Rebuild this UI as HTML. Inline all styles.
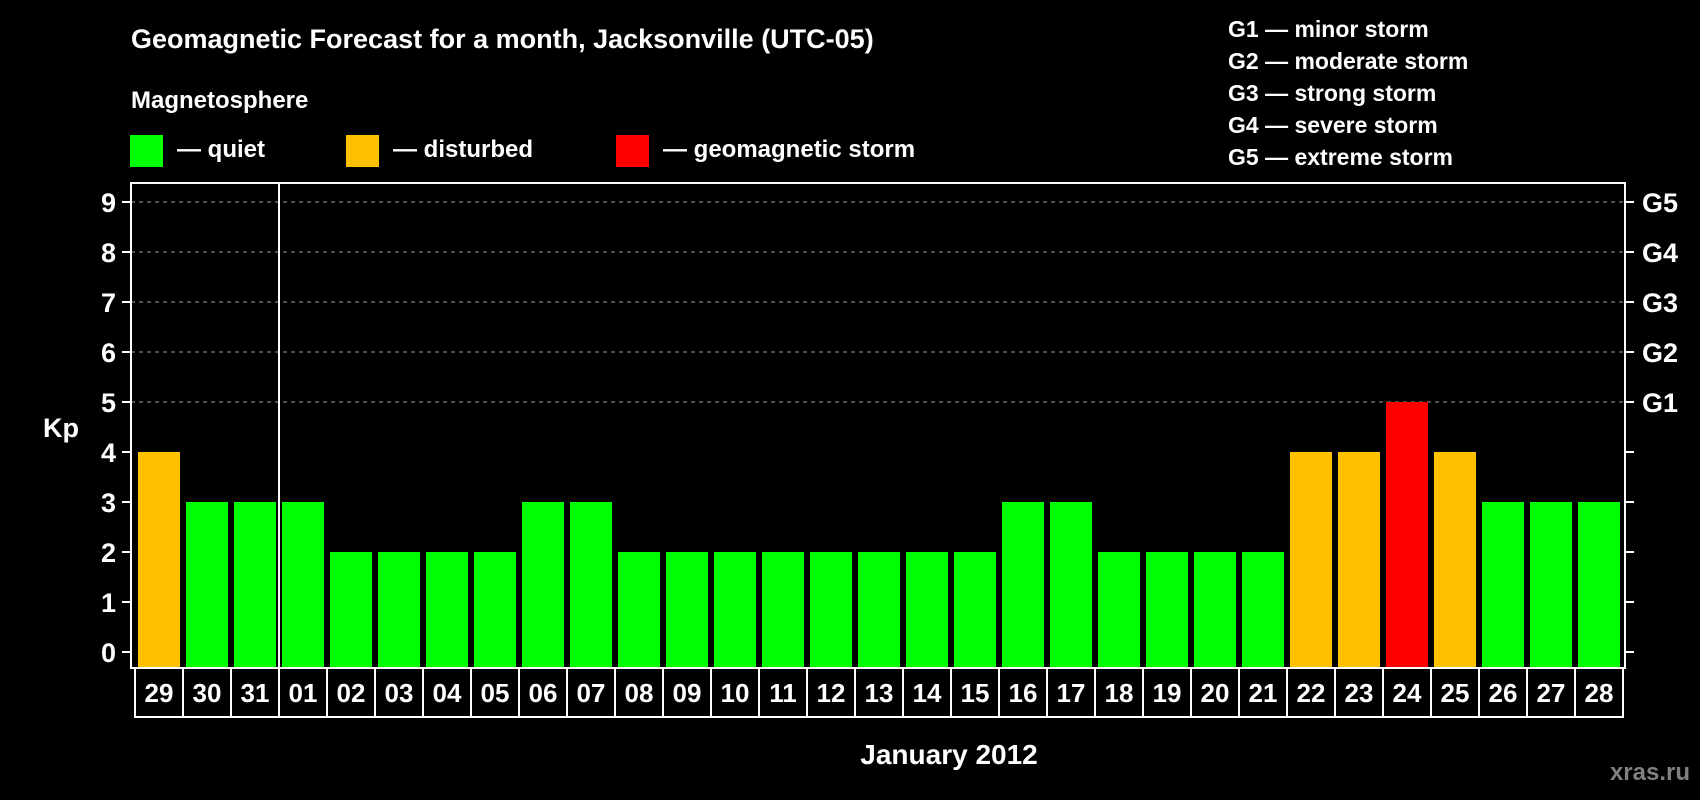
<!DOCTYPE html>
<html><head><meta charset="utf-8"><style>
html,body{margin:0;padding:0;background:#000;width:1700px;height:800px;overflow:hidden}
svg{display:block;font-family:"Liberation Sans",Arial,sans-serif;font-weight:bold}
</style></head><body>
<svg id="chart" width="1700" height="800" viewBox="0 0 1700 800">
<rect width="1700" height="800" fill="#000"/>
<text x="131" y="48" fill="#fff" font-size="27">Geomagnetic Forecast for a month, Jacksonville (UTC-05)</text>
<text x="131" y="108" fill="#fff" font-size="24">Magnetosphere</text>
<g><rect x="130" y="135" width="33" height="32" fill="#00ff00"/><text x="177" y="157" fill="#fff" font-size="24">— quiet</text></g>
<g><rect x="346" y="135" width="33" height="32" fill="#ffc000"/><text x="393" y="157" fill="#fff" font-size="24">— disturbed</text></g>
<g><rect x="616" y="135" width="33" height="32" fill="#ff0000"/><text x="663" y="157" fill="#fff" font-size="24">— geomagnetic storm</text></g>
<g fill="#fff" font-size="23">
<text x="1228" y="37">G1 — minor storm</text>
<text x="1228" y="69">G2 — moderate storm</text>
<text x="1228" y="101">G3 — strong storm</text>
<text x="1228" y="133">G4 — severe storm</text>
<text x="1228" y="165">G5 — extreme storm</text>
</g>
<g id="plot"></g>
<text x="43" y="437" fill="#fff" font-size="27">Kp</text>
<text x="949" y="764" fill="#fff" font-size="28" text-anchor="middle">January 2012</text>
<text x="1690" y="780" fill="#808080" font-size="24" text-anchor="end">xras.ru</text>
</svg>
<script>
const days = ["29","30","31","01","02","03","04","05","06","07","08","09","10","11","12","13","14","15","16","17","18","19","20","21","22","23","24","25","26","27","28"];
const kp = [4,3,3,3,2,2,2,2,3,3,2,2,2,2,2,2,2,2,3,3,2,2,2,2,4,4,5,4,3,3,3];
const yTicks = [0,1,2,3,4,5,6,7,8,9];
const gLabels = ["G1","G2","G3","G4","G5"];
const gLevels = [5,6,7,8,9];

const NS="http://www.w3.org/2000/svg";
const g=document.getElementById('plot');
const L=131,R=1625,T=183,B=668;
const y=v=>652-v*50;
const step=(R-L-6)/days.length;
const x=i=>138+i*step;
const bw=42;
function mk(tag,attrs,parent){const e=document.createElementNS(NS,tag);for(const k in attrs)e.setAttribute(k,attrs[k]);(parent||g).appendChild(e);return e;}
function col(v){return v>=5?"#ff0000":(v>=4?"#ffc000":"#00ff00");}

yTicks.forEach(v=>{
  if(v>=5){const l=mk('line',{x1:L,x2:R,y1:y(v),y2:y(v),stroke:'#999','stroke-width':1,'stroke-dasharray':'4,4'});
  
  }
  const t1=mk('line',{x1:L-9,x2:L,y1:y(v),y2:y(v),stroke:'#fff','stroke-width':2});
  
  
  const t2=mk('line',{x1:R,x2:R+9,y1:y(v),y2:y(v),stroke:'#fff','stroke-width':2});
  
  
  const tx=mk('text',{x:116,y:y(v)+10,fill:'#fff','font-size':27,'text-anchor':'end'});
  tx.textContent=v;
  
  
});
gLevels.forEach((v,i)=>{
  const t=mk('text',{x:1642,y:y(v)+10,fill:'#fff','font-size':27});
  t.textContent=gLabels[i];
  
  
});
kp.forEach((v,i)=>{
  const b=mk('rect',{x:x(i),y:y(v),width:bw,height:B-y(v),fill:col(v)});
  
  
});
const fr=mk('rect',{x:L,y:T,width:R-L,height:B-T,fill:'none',stroke:'#fff','stroke-width':2});


const ml=mk('line',{x1:x(3)-3,x2:x(3)-3,y1:T,y2:B,stroke:'#fff','stroke-width':2});


days.forEach((d,i)=>{
  const bx=135+i*step;
  const r=mk('rect',{x:bx,y:B,width:step,height:49,fill:'none',stroke:'#fff','stroke-width':2});
  
  
  const t=mk('text',{x:bx+step/2,y:B+34,fill:'#fff','font-size':26,'text-anchor':'middle'});
  t.textContent=d;
  
  
});
</script>
</body></html>
